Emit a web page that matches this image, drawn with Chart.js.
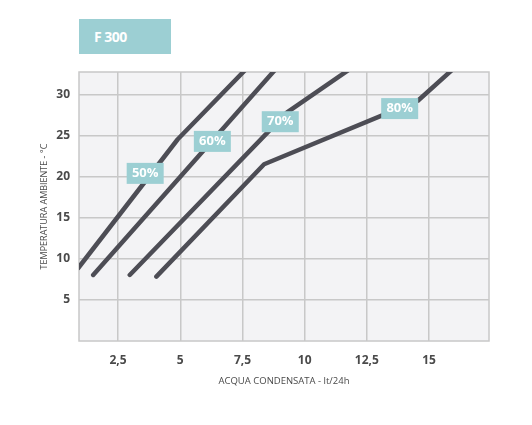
<!DOCTYPE html>
<html>
<head>
<meta charset="utf-8">
<script src="https://cdn.jsdelivr.net/npm/chart.js@4.4.0/dist/chart.umd.min.js"></script>
<style>
  body { margin: 0; background: #fff; font-family: "Open Sans", sans-serif; }
  #wrap { position: absolute; left: 0; top: 0; width: 532px; height: 425px; }
  #badge {
    position: absolute; left: 79px; top: 19px; width: 92px; height: 35px;
    background: #9ccfd3; color: #fff; font: bold 14px "Open Sans", sans-serif;
    letter-spacing: -0.5px; line-height: 35px; box-sizing: border-box; padding-left: 15px;
  }
</style>
</head>
<body>
<div id="wrap">
  <canvas id="chart"></canvas>
  <div id="badge">F 300</div>
</div>
<script>
// values
var xTicks = [2.5, 5, 7.5, 10, 12.5, 15];
var yTicks = [5, 10, 15, 20, 25, 30];

var x50 = [0.9, 4.9, 7.66];
var y50 = [8.9, 24.6, 33.2];
var x60 = [1.5, 8.85];
var y60 = [8.05, 33.2];
var x70 = [2.97, 9.28, 11.84];
var y70 = [8.05, 27.85, 33.2];
var x80 = [4.04, 8.37, 14.55, 15.98];
var y80 = [7.85, 21.55, 29.3, 33.2];

var tagText = ["50%", "60%", "70%", "80%"];
var tagX = [3.57, 6.27, 9.0, 13.8];
var tagY = [20.5, 24.4, 26.8, 28.4];

function pts(xs, ys) {
  return xs.map(function (x, i) { return { x: x, y: ys[i] }; });
}

function lineSet(label, xs, ys) {
  return {
    label: label,
    data: pts(xs, ys),
    borderColor: "#4d4d55",
    borderWidth: 4.5,
    borderCapStyle: "round",
    borderJoinStyle: "round",
    pointRadius: 0,
    tension: 0,
    clip: 0
  };
}

// plot background + frame
var plotFrame = {
  id: "plotFrame",
  beforeDraw: function (chart) {
    var a = chart.chartArea, c = chart.ctx;
    c.save();
    c.fillStyle = "#f3f3f5";
    c.fillRect(a.left, a.top, a.right - a.left, a.bottom - a.top);
    c.restore();
  },
  beforeDatasetsDraw: function (chart) {
    var a = chart.chartArea, c = chart.ctx;
    c.save();
    c.strokeStyle = "#c8c8c8";
    c.lineWidth = 1.5;
    c.strokeRect(a.left, a.top, a.right - a.left, a.bottom - a.top);
    c.restore();
  }
};

// percentage tags on the curves
var tags = {
  id: "tags",
  afterDatasetsDraw: function (chart) {
    var c = chart.ctx, sx = chart.scales.x, sy = chart.scales.y;
    c.save();
    c.font = "bold 13px 'Open Sans', sans-serif";
    c.textAlign = "center";
    c.textBaseline = "middle";
    for (var i = 0; i < tagText.length; i++) {
      var px = sx.getPixelForValue(tagX[i]);
      var py = sy.getPixelForValue(tagY[i]);
      c.fillStyle = "#9ccfd3";
      c.fillRect(px - 18, py - 10, 37, 21);
      c.fillStyle = "#ffffff";
      c.fillText(tagText[i], px + 0.5, py + 0.5);
    }
    c.restore();
  }
};

new Chart(document.getElementById("chart"), {
  type: "line",
  data: {
    datasets: [
      lineSet("50%", x50, y50),
      lineSet("60%", x60, y60),
      lineSet("70%", x70, y70),
      lineSet("80%", x80, y80)
    ]
  },
  options: {
    responsive: true,
    maintainAspectRatio: false,
    animation: false,
    layout: { padding: { left: 35, right: 43, top: 72, bottom: 34 } },
    plugins: {
      legend: { display: false },
      tooltip: { enabled: false }
    },
    scales: {
      x: {
        type: "linear",
        min: 0.93,
        max: 17.41,
        afterBuildTicks: function (scale) {
          scale.ticks = xTicks.map(function (v) { return { value: v }; });
        },
        afterFit: function (scale) { scale.height = 50; },
        grid: { color: "#c8c8c8", lineWidth: 1.5, drawTicks: false },
        border: { display: false },
        ticks: {
          padding: 12,
          color: "#4a4a4a",
          font: { family: "Open Sans", size: 12, weight: "bold" },
          callback: function (v) { return String(v).replace(".", ","); }
        },
        title: {
          display: true,
          text: "ACQUA CONDENSATA - lt/24h",
          color: "#4a4a4a",
          font: { family: "Open Sans", size: 9.5 },
          padding: { top: 4, bottom: 4 }
        }
      },
      y: {
        type: "linear",
        min: 0,
        max: 32.8,
        afterBuildTicks: function (scale) {
          scale.ticks = yTicks.map(function (v) { return { value: v }; });
        },
        afterFit: function (scale) { scale.width = 44; },
        grid: { color: "#c8c8c8", lineWidth: 1.5, drawTicks: false },
        border: { display: false },
        ticks: {
          padding: 9,
          color: "#4a4a4a",
          font: { family: "Open Sans", size: 12, weight: "bold" }
        },
        title: {
          display: true,
          text: "TEMPERATURA AMBIENTE - °C",
          color: "#4a4a4a",
          font: { family: "Open Sans", size: 9 },
          padding: { top: 4, bottom: 4 }
        }
      }
    }
  },
  plugins: [plotFrame, tags]
});
</script>
</body>
</html>
